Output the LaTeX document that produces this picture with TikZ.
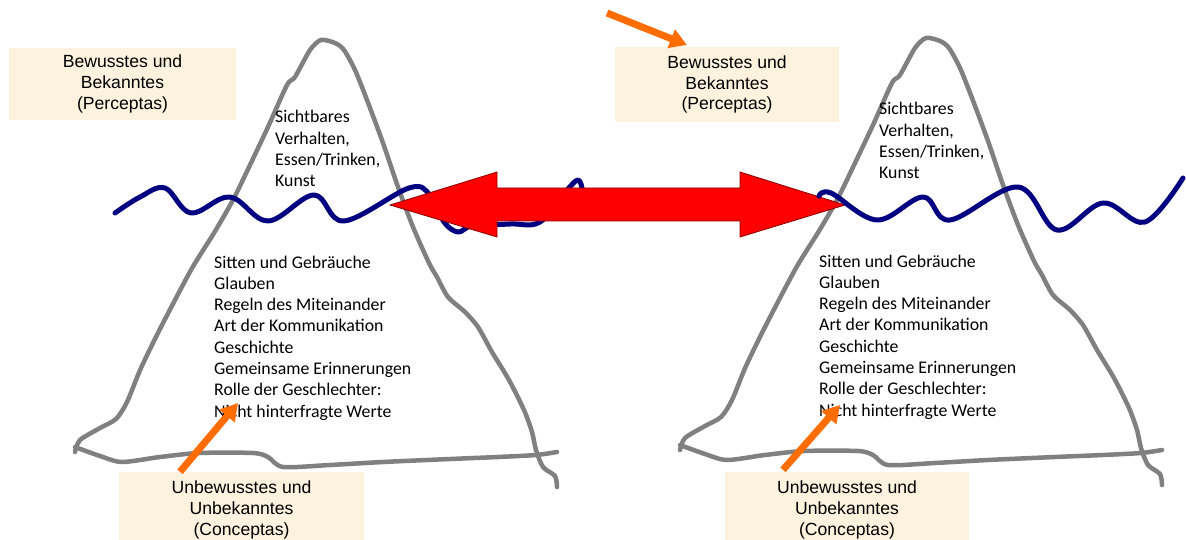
\documentclass[tikz,border=0pt]{standalone}
\usepackage{fontspec}
\newfontfamily\calib{Carlito}
\newfontfamily\arialf{Liberation Sans}
\usetikzlibrary{arrows.meta}
\definecolor{beige}{RGB}{253,242,222}
\definecolor{icegray}{RGB}{128,128,128}
\definecolor{wavenavy}{RGB}{0,0,128}
\definecolor{orangearr}{RGB}{255,108,0}
\definecolor{redfill}{RGB}{255,0,0}
\definecolor{redline}{RGB}{140,0,0}
\tikzset{
  iceberg/.pic={
    \draw[ice] plot[smooth,tension=0.45] coordinates {(75,452) (80,440) (100,428) (116,419) (127,402) (141,368) (161,327) (191,270) (214,233) (233,200) (250,165) (268,127) (287,85) (295,77) (310,50) (321,40) (335,43) (344,50) (355,70) (367,100) (383,143) (398,187) (413,227) (429,263) (437,277) (448,297) (465,312) (478,327) (492,352) (509,380) (524,410) (532,432) (536,450) (543,467) (555,476) (557,487)};
    \draw[ice] plot[smooth,tension=0.45] coordinates {(75,447) (100,456) (122,462) (160,457) (199,453) (253,453) (268,457) (283,467) (330,465) (383,462) (450,459) (498,457) (536,455) (557,452)};
  }
}
\begin{document}
\begin{tikzpicture}[x=1pt,y=-1pt,
  box/.style={fill=beige, draw=none, inner sep=0pt, align=center, font=\arialf\fontsize{17.6}{20.8}\selectfont},
  ice/.style={draw=icegray, line width=4.5pt, line cap=round, line join=round},
  wave/.style={draw=wavenavy, line width=5pt, line cap=round, line join=round},
  txt/.style={inner sep=0pt, anchor=base west, font=\calib\fontsize{17.8}{21.3}\selectfont},
  orarrow/.style={draw=orangearr, line width=7pt, -{Triangle[width=19pt,length=17pt]}},
  bigarrow/.style={fill=redfill, draw=redline, line width=0.8pt, line join=miter}
]
\useasboundingbox (0,0) rectangle (1186,540);
\fill[white] (0,0) rectangle (1186,540);

% icebergs
\pic (ibl) at (0,0) {iceberg};
\pic (ibr) at (605,-2) {iceberg};

% left wave
\draw[wave] plot[smooth,tension=0.6] coordinates {(115,213) (140,197) (165,188) (191,213) (230,197) (268,221) (314,195) (344,221) (409,188) (430,195) (444,222) (458,232) (472,226) (510,224) (540,222) (567,190) (578,180) (582,188)};

% red double arrow
\draw[bigarrow] (390,205) -- (497,172) -- (497,188) -- (740,188) -- (740,172) -- (845,205) -- (740,237) -- (740,221) -- (497,221) -- (497,237) -- cycle;

% right wave
\draw[wave] plot[smooth,tension=0.6] coordinates {(819,196) (831,193) (877,220) (923,197) (950,220) (1018,187) (1057,230) (1103,203) (1145,222) (1183,178)};

% boxes
\node[box, minimum width=227pt, minimum height=72pt] (b1) at (122.5,84) {Bewusstes und\\Bekanntes\\(Perceptas)};
\node[box, minimum width=224pt, minimum height=75pt] (b2) at (727,84.5) {Bewusstes und\\Bekanntes\\(Perceptas)};
\node[box, minimum width=245pt, minimum height=76pt] (b3) at (241.5,510) {Unbewusstes und\\Unbekanntes\\(Conceptas)};
\node[box, minimum width=244pt, minimum height=76pt] (b4) at (847,510) {Unbewusstes und\\Unbekanntes\\(Conceptas)};

% iceberg texts
\node[txt] (t1) at (275,123) {\begin{tabular}[t]{@{}l@{}}Sichtbares\\Verhalten,\\Essen/Trinken,\\Kunst\end{tabular}};
\node[txt] (t2) at (214,268) {\begin{tabular}[t]{@{}l@{}}Sitten und Gebräuche\\Glauben\\Regeln des Miteinander\\Art der Kommunikation\\Geschichte\\Gemeinsame Erinnerungen\\Rolle der Geschlechter:\\Nicht hinterfragte Werte\end{tabular}};
\node[txt] (t3) at (879,115) {\begin{tabular}[t]{@{}l@{}}Sichtbares\\Verhalten,\\Essen/Trinken,\\Kunst\end{tabular}};
\node[txt] (t4) at (819,267) {\begin{tabular}[t]{@{}l@{}}Sitten und Gebräuche\\Glauben\\Regeln des Miteinander\\Art der Kommunikation\\Geschichte\\Gemeinsame Erinnerungen\\Rolle der Geschlechter:\\Nicht hinterfragte Werte\end{tabular}};

% orange arrows
\coordinate (a1) at (238,403);
\coordinate (a2) at (840,405);
\coordinate (a3s) at (607,13);
\coordinate (a3) at (687,45);
\draw[orarrow] ([xshift=-61.5pt]b3.north) -- (a1);
\draw[orarrow] ([xshift=-64pt,yshift=2pt]b4.north) -- (a2);
\draw[orarrow] (a3s) -- (a3);
\end{tikzpicture}
\end{document}
